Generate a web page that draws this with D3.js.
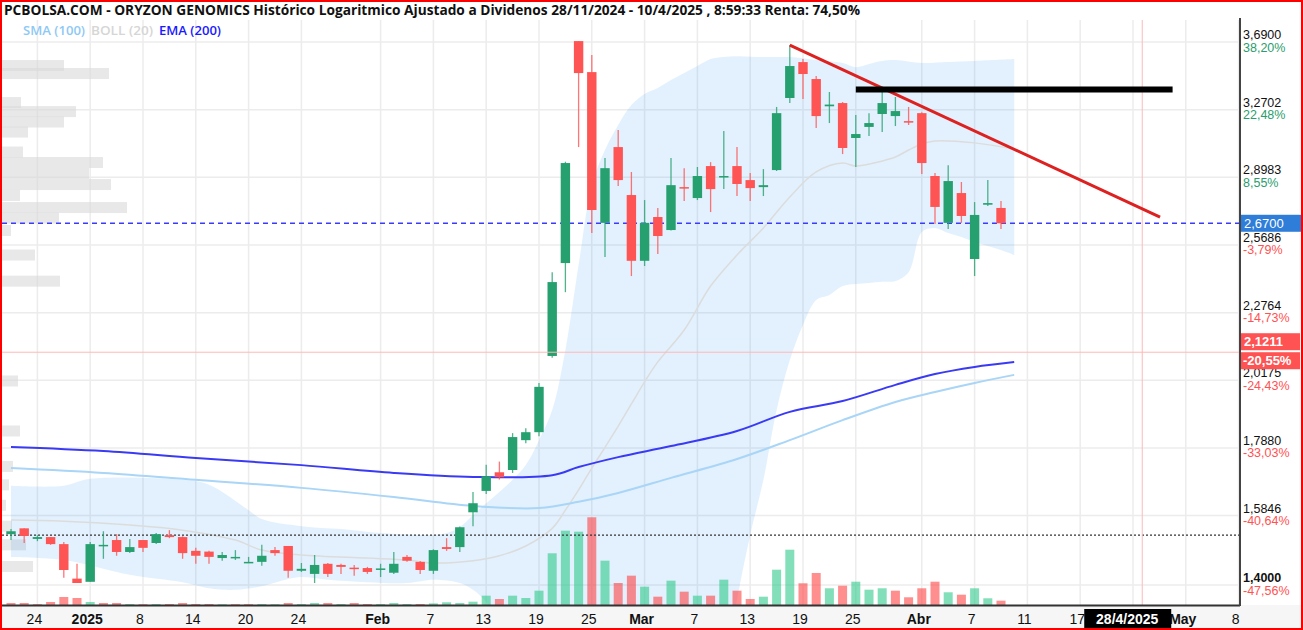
<!DOCTYPE html>
<html lang="es">
<head>
<meta charset="UTF-8">
<title>ORYZON GENOMICS - PCBOLSA</title>
<script src="https://d3js.org/d3.v7.min.js"></script>
<style>
  body { margin: 0; background: #fff; }
  svg { display: block; }
</style>
</head>
<body>
<div id="chart"></div>
<script>
// ---- data ----
var dates = ["20/12/2024","23/12/2024","24/12/2024","27/12/2024","30/12/2024","31/12/2024",
  "2/1/2025","3/1/2025","6/1/2025","7/1/2025","8/1/2025","9/1/2025","10/1/2025","13/1/2025","14/1/2025","15/1/2025",
  "16/1/2025","17/1/2025","20/1/2025","21/1/2025","22/1/2025","23/1/2025","24/1/2025","27/1/2025","28/1/2025","29/1/2025",
  "30/1/2025","31/1/2025","3/2/2025","4/2/2025","5/2/2025","6/2/2025","7/2/2025","10/2/2025","11/2/2025","12/2/2025",
  "13/2/2025","14/2/2025","17/2/2025","18/2/2025","19/2/2025","20/2/2025","21/2/2025","24/2/2025","25/2/2025","26/2/2025",
  "27/2/2025","28/2/2025","3/3/2025","4/3/2025","5/3/2025","6/3/2025","7/3/2025","10/3/2025","11/3/2025","12/3/2025",
  "13/3/2025","14/3/2025","17/3/2025","18/3/2025","19/3/2025","20/3/2025","21/3/2025","24/3/2025","25/3/2025","26/3/2025",
  "27/3/2025","28/3/2025","31/3/2025","1/4/2025","2/4/2025","3/4/2025","4/4/2025","7/4/2025","8/4/2025","9/4/2025"];

var open = [1.533,1.549,1.520,1.525,1.506,1.416,1.408,1.500,1.517,1.485,1.517,1.509,1.530,1.525,1.488,1.486,
  1.469,1.469,1.456,1.459,1.490,1.501,1.436,1.428,1.454,1.451,1.444,1.443,1.440,1.431,1.472,1.459,1.436,1.498,1.498,1.594,
  1.656,1.712,1.719,1.813,1.839,2.107,2.487,3.696,3.497,2.672,3.059,2.808,2.497,2.700,2.638,2.848,2.793,2.957,2.900,2.957,
  2.884,2.848,2.936,3.339,3.560,3.454,3.290,3.309,3.109,3.171,3.245,3.233,3.204,3.250,2.905,2.672,2.818,2.505,2.760,2.744];
var high = [1.547,1.549,1.530,1.525,1.512,1.454,1.512,1.541,1.533,1.520,1.517,1.536,1.544,1.527,1.496,1.488,
  1.485,1.490,1.472,1.504,1.498,1.501,1.456,1.477,1.456,1.454,1.451,1.446,1.454,1.485,1.477,1.461,1.492,1.522,1.554,1.653,
  1.735,1.745,1.836,1.852,2.008,2.447,2.980,3.696,3.605,3.000,3.154,2.926,2.783,2.744,3.000,2.946,2.952,2.978,3.148,3.059,
  2.921,2.941,3.286,3.670,3.579,3.472,3.375,3.315,3.239,3.250,3.375,3.345,3.286,3.255,2.921,2.962,2.874,2.773,2.884,2.778];
var low = [1.517,1.509,1.514,1.504,1.418,1.405,1.408,1.467,1.475,1.482,1.485,1.506,1.522,1.467,1.454,1.454,
  1.462,1.464,1.456,1.449,1.475,1.418,1.433,1.405,1.420,1.428,1.423,1.428,1.420,1.428,1.459,1.428,1.428,1.488,1.485,1.555,
  1.647,1.690,1.710,1.803,1.826,2.100,2.361,3.059,2.624,2.514,2.854,2.430,2.474,2.528,2.636,2.778,2.783,2.724,2.838,2.803,
  2.778,2.803,2.931,3.309,3.333,3.165,3.193,3.021,2.952,3.120,3.143,3.176,3.182,2.915,2.667,2.643,2.672,2.430,2.754,2.643];
var close = [1.541,1.528,1.525,1.506,1.438,1.405,1.506,1.504,1.485,1.498,1.496,1.533,1.525,1.482,1.475,1.472,
  1.477,1.472,1.459,1.475,1.482,1.436,1.441,1.451,1.428,1.446,1.442,1.433,1.442,1.454,1.462,1.438,1.490,1.493,1.552,1.620,
  1.700,1.697,1.823,1.839,1.994,2.404,2.973,3.491,2.734,2.946,2.884,2.497,2.672,2.610,2.858,2.843,2.905,2.838,2.905,2.864,
  2.843,2.858,3.250,3.535,3.485,3.233,3.300,3.054,3.131,3.193,3.309,3.262,3.199,2.973,2.749,2.879,2.705,2.710,2.768,2.670];
// miles de acciones
var volume = [50,50,20,75,200,175,75,50,50,25,20,25,25,50,25,25,
  20,20,20,25,20,50,25,50,50,25,50,25,25,50,25,25,40,68,50,83,
  233,150,233,175,358,1293,1858,1833,2193,1108,550,733,458,208,608,333,233,233,633,358,
  150,208,883,1383,543,800,418,483,583,383,418,358,193,418,583,318,258,418,168,108];
var prevClose = 1.552;   // cierre 19/12/2024
var startPrice = 1.5301; // cierre 28/11/2024 (Renta 74,50%)

// indicators: [bar index, value]
var smaLine = [[0,1.725],[7,1.710],[14,1.689],[22,1.665],[29,1.638],[35,1.612],[40,1.606],[43,1.624],[46,1.650],
  [50,1.695],[55,1.753],[59,1.813],[63,1.879],[67,1.941],[70,1.976],[73,2.008],[76,2.037]];
var emaLine = [[0,1.791],[7,1.778],[14,1.756],[22,1.734],[29,1.710],[35,1.698],[41,1.703],[43,1.728],[46,1.759],
  [50,1.794],[55,1.843],[59,1.907],[63,1.944],[67,2.001],[70,2.040],[73,2.066],[76,2.084]];
var bollUp = [[0,1.671],[4,1.671],[6,1.692],[13,1.689],[15,1.674],[18,1.600],[19,1.575],[22,1.555],[25,1.547],
  [28,1.536],[32,1.531],[33,1.536],[34,1.552],[35,1.586],[36,1.620],[37,1.653],[38,1.689],[39,1.734],[40,1.813],
  [41,1.913],[42,2.130],[43,2.478],[44,2.858],[45,3.043],[46,3.182],[47,3.297],[48,3.363],[49,3.399],[50,3.448],
  [51,3.491],[52,3.535],[53,3.579],[54,3.592],[55,3.598],[57,3.592],[59,3.592],[61,3.573],[63,3.554],[64,3.528],
  [65,3.548],[66,3.567],[67,3.573],[69,3.554],[71,3.560],[73,3.567],[76,3.579]];
var bollMid = [[0,1.572],[4,1.569],[9,1.558],[13,1.544],[17,1.517],[19,1.490],[22,1.477],[27,1.469],[30,1.464],
  [32,1.456],[35,1.462],[37,1.475],[39,1.501],[41,1.549],[42,1.600],[43,1.659],[44,1.725],[45,1.790],[46,1.859],
  [47,1.934],[48,2.012],[49,2.085],[51,2.207],[53,2.387],[55,2.523],[57,2.648],[59,2.798],[61,2.926],[63,2.973],
  [64,2.957],[66,2.984],[67,3.005],[68,3.043],[69,3.076],[70,3.093],[73,3.082],[76,3.048]];
var bollLow = [[0,1.472],[4,1.464],[9,1.426],[13,1.407],[15,1.392],[17,1.388],[19,1.397],[21,1.415],[22,1.420],
  [24,1.413],[27,1.407],[30,1.405],[32,1.413],[34,1.405],[35,1.388],[36,1.358],[37,1.304],[38,1.225],[40,1.100],
  [42,0.954],[44,0.872],[48,0.904],[52,1.025],[54,1.182],[55,1.363],[56,1.531],[57,1.689],[58,1.913],[59,2.092],
  [60,2.227],[61,2.328],[62,2.349],[63,2.387],[64,2.396],[65,2.400],[66,2.405],[67,2.409],[68,2.447],[69,2.629],
  [70,2.648],[71,2.624],[72,2.605],[73,2.582],[74,2.564],[75,2.546],[76,2.523]];

// volume by price (left)
var profPrice = [3.538,3.488,3.312,3.259,3.199,3.142,3.032,2.976,2.918,2.861,2.806,2.746,2.695,2.636,2.523,2.408,
  2.015,1.843,1.730,1.674,1.614,1.555,1.504,1.447];
var profVol = [62,107,19,74,62,26,21,101,87,109,18,125,57,9,33,58,16,18,11,7,4,10,24,31];

// drawn lines
var trendLine = [[59,3.670],[87.05,2.700]];
var levelLine = [[64,3.39],[88,3.39]];

// axes
var priceTicks = [3.69,3.2702,2.8983,2.5686,2.2764,2.0175,1.788,1.5846,1.4];
var pctLabels = ["38,20%","22,48%","8,55%","-3,79%","-14,73%","-24,43%","-33,03%","-40,64%","-47,56%"];
var xTickIdx = [2,6,10,14,18,22,28,32,36,40,44,48,52,56,60,64,69,73,77,81,85,89,93];
// the label at 85 sits under the cursor date box
var xTickText = ["24","2025","8","14","20","24","Feb","7","13","19","25","Mar","7","13","19","25","Abr","7","11","17","","May","8"];
var boldTicks = ["2025","Feb","Mar","Abr","May"];

var cursorIdx = 85.7, cursorPrice = 2.1211, cursorDate = "28/4/2025", cursorPct = "-20,55%";

var title = "PCBOLSA.COM - ORYZON GENOMICS Histórico Logaritmico Ajustado a Dividenos 28/11/2024 - 10/4/2025 , 8:59:33 Renta: 74,50%";

// ---- layout ----
var W = 1303, H = 630;
var L = 2, R = 1240, T = 20, B = 605;
var upCol = "#26a06f", downCol = "#fe5454";
var axisFont = "'Liberation Sans', Arial, sans-serif";

var svg = d3.select("#chart").append("svg").attr("width", W).attr("height", H);

var x = d3.scaleLinear().domain([0, 93]).range([11, 11 + 93 * 13.2]);
var y = d3.scaleLog().domain([1.4, 3.69]).range([585, 42]);
var yVol = d3.scaleLinear().domain([0, 2200]).range([B, B - 88]);
var profW = d3.scaleLinear().domain([0, 125]).range([0, 125]);

svg.append("rect").attr("width", W).attr("height", H).attr("fill", "#fff");

svg.append("defs").append("clipPath").attr("id", "plot")
  .append("rect").attr("x", L).attr("y", T).attr("width", R - L).attr("height", B - T);

var g = svg.append("g").attr("clip-path", "url(#plot)");

// grid
g.selectAll(".hgrid").data(priceTicks).join("line")
  .attr("x1", L).attr("x2", R).attr("y1", d => y(d)).attr("y2", d => y(d))
  .attr("stroke", "#ececec").attr("stroke-width", 1.5);
g.selectAll(".vgrid").data(xTickIdx).join("line")
  .attr("x1", d => x(d)).attr("x2", d => x(d)).attr("y1", T).attr("y2", B)
  .attr("stroke", "#ececec").attr("stroke-width", 1.5);

// volume profile
g.selectAll(".prof").data(profPrice).join("rect")
  .attr("x", L).attr("y", d => y(d) - 5.5).attr("height", 11)
  .attr("width", (d, i) => profW(profVol[i]))
  .attr("fill", "#d9d9d9").attr("opacity", 0.6);

// bollinger band
var curve = d3.line().x(d => x(d[0])).y(d => y(d[1])).curve(d3.curveCatmullRom.alpha(0.5));
var bandPath = curve(bollUp) + "L" + curve(bollLow.slice().reverse()).slice(1) + "Z";
g.append("path").attr("d", bandPath).attr("fill", "rgba(33,150,243,0.13)");
g.append("path").attr("d", curve(bollMid)).attr("fill", "none").attr("stroke", "#dcdcdc").attr("stroke-width", 1.5);

// moving averages
g.append("path").attr("d", curve(smaLine)).attr("fill", "none").attr("stroke", "#a9d5f7").attr("stroke-width", 2);
g.append("path").attr("d", curve(emaLine)).attr("fill", "none").attr("stroke", "#3a3af5").attr("stroke-width", 2);

// volume
var idx = d3.range(close.length);
g.selectAll(".vol").data(idx).join("rect")
  .attr("x", i => x(i) - 4.5).attr("width", 9)
  .attr("y", i => yVol(volume[i])).attr("height", i => B - yVol(volume[i]))
  .attr("fill", i => close[i] >= (i ? close[i - 1] : prevClose) ? "#2fc98a" : "#ff4444")
  .attr("opacity", 0.6);

// reference lines
g.append("line").attr("x1", L).attr("x2", R).attr("y1", y(startPrice)).attr("y2", y(startPrice))
  .attr("stroke", "#333").attr("stroke-width", 1.3).attr("stroke-dasharray", "2,2");
g.append("line").attr("x1", L).attr("x2", R).attr("y1", y(close[close.length - 1])).attr("y2", y(close[close.length - 1]))
  .attr("stroke", "#3b3bff").attr("stroke-width", 1.4).attr("stroke-dasharray", "5,4");

// candles
g.selectAll(".wick").data(idx).join("line")
  .attr("x1", i => x(i)).attr("x2", i => x(i))
  .attr("y1", i => y(high[i])).attr("y2", i => y(low[i]))
  .attr("stroke", i => close[i] >= open[i] ? upCol : downCol)
  .attr("stroke-opacity", 0.8).attr("stroke-width", 1.3);
g.selectAll(".body").data(idx).join("rect")
  .attr("x", i => x(i) - 4.7).attr("width", 9.4)
  .attr("y", i => y(Math.max(open[i], close[i])))
  .attr("height", i => Math.max(1.5, Math.abs(y(open[i]) - y(close[i]))))
  .attr("fill", i => close[i] >= open[i] ? upCol : downCol);

// cursor
g.append("line").attr("x1", x(cursorIdx)).attr("x2", x(cursorIdx)).attr("y1", T).attr("y2", B)
  .attr("stroke", "#ffb8b8").attr("stroke-width", 1);
g.append("line").attr("x1", L).attr("x2", R).attr("y1", y(cursorPrice)).attr("y2", y(cursorPrice))
  .attr("stroke", "#ffb8b8").attr("stroke-width", 1);

// drawn trend lines
var straight = d3.line().x(d => x(d[0])).y(d => y(d[1]));
g.append("path").attr("d", straight(trendLine)).attr("stroke", "#dd2020").attr("stroke-width", 3).attr("fill", "none");
g.append("path").attr("d", straight(levelLine)).attr("stroke", "#000").attr("stroke-width", 6).attr("fill", "none");

// ---- axes ----
// bottom band
svg.append("rect").attr("x", L).attr("y", B).attr("width", W - L).attr("height", H - B).attr("fill", "#f6f6f6");
svg.append("line").attr("x1", L).attr("x2", R).attr("y1", B + 0.5).attr("y2", B + 0.5).attr("stroke", "#333").attr("stroke-width", 2);
svg.append("line").attr("x1", R).attr("x2", R).attr("y1", T - 2).attr("y2", B + 1).attr("stroke", "#444").attr("stroke-width", 2);

svg.selectAll(".xlab").data(xTickIdx).join("text")
  .attr("x", d => x(d) - 3).attr("y", 624)
  .attr("text-anchor", "middle")
  .attr("font-family", axisFont).attr("font-size", 14)
  .attr("font-weight", (d, i) => boldTicks.indexOf(xTickText[i]) >= 0 ? "bold" : "normal")
  .attr("fill", "#111")
  .text((d, i) => xTickText[i]);

// right labels
var fmt = v => v.toFixed(4).replace(".", ",");
svg.selectAll(".ylab").data(priceTicks).join("text")
  .attr("x", R + 3).attr("y", d => y(d) - 3)
  .attr("font-family", axisFont).attr("font-size", 12.5)
  .attr("font-weight", d => d === 1.4 ? "bold" : "normal")
  .attr("fill", "#111").text(d => fmt(d));
svg.selectAll(".pct").data(priceTicks).join("text")
  .attr("x", R + 3).attr("y", d => y(d) + 9.5)
  .attr("font-family", axisFont).attr("font-size", 12.5)
  .attr("fill", (d, i) => pctLabels[i][0] === "-" ? "#ff5252" : "#2a9d6c")
  .text((d, i) => pctLabels[i]);

// current price box
var last = close[close.length - 1];
svg.append("rect").attr("x", R + 1).attr("y", y(last) - 8.5).attr("width", 60).attr("height", 17).attr("fill", "#2e7dd9");
svg.append("text").attr("x", R + 4).attr("y", y(last) + 4.5)
  .attr("font-family", axisFont).attr("font-size", 13).attr("fill", "#fff").text(fmt(last));

// cursor boxes
var cy = y(cursorPrice);
svg.append("rect").attr("x", R + 1).attr("y", cy - 19).attr("width", 59).attr("height", 17).attr("fill", "#ff5252");
svg.append("text").attr("x", R + 4).attr("y", cy - 6)
  .attr("font-family", axisFont).attr("font-size", 13).attr("font-weight", "bold").attr("fill", "#fff").text(fmt(cursorPrice));
svg.append("rect").attr("x", R + 1).attr("y", cy).attr("width", 59).attr("height", 17).attr("fill", "#ff5252");
svg.append("text").attr("x", R + 3).attr("y", cy + 13)
  .attr("font-family", axisFont).attr("font-size", 13).attr("font-weight", "bold").attr("fill", "#fff").text(cursorPct);

var cx = x(cursorIdx);
svg.append("rect").attr("x", cx - 58).attr("y", 609).attr("width", 87).attr("height", 19).attr("fill", "#000");
svg.append("text").attr("x", cx - 15).attr("y", 624).attr("text-anchor", "middle")
  .attr("font-family", axisFont).attr("font-size", 14).attr("font-weight", "bold").attr("fill", "#fff").text(cursorDate);

// title + legend
svg.append("text").attr("x", 4).attr("y", 15)
  .attr("font-family", "'Open Sans', sans-serif").attr("font-size", 13.5).attr("font-weight", "bold")
  .attr("textLength", 856).attr("lengthAdjust", "spacingAndGlyphs")
  .attr("fill", "#111").text(title);

var legend = [["SMA (100)", "#8ec9f5", 23], ["BOLL (20)", "#d6d6d6", 91], ["EMA (200)", "#1a1aff", 159]];
svg.selectAll(".leg").data(legend).join("text")
  .attr("x", d => d[2]).attr("y", 35)
  .attr("font-family", "'Open Sans', sans-serif").attr("font-size", 13).attr("font-weight", 600)
  .attr("textLength", 62).attr("lengthAdjust", "spacingAndGlyphs")
  .attr("fill", d => d[1]).text(d => d[0]);

// frame
svg.append("rect").attr("x", 1).attr("y", 1).attr("width", W - 2).attr("height", H - 2)
  .attr("fill", "none").attr("stroke", "#ff0000").attr("stroke-width", 2);
</script>
</body>
</html>
